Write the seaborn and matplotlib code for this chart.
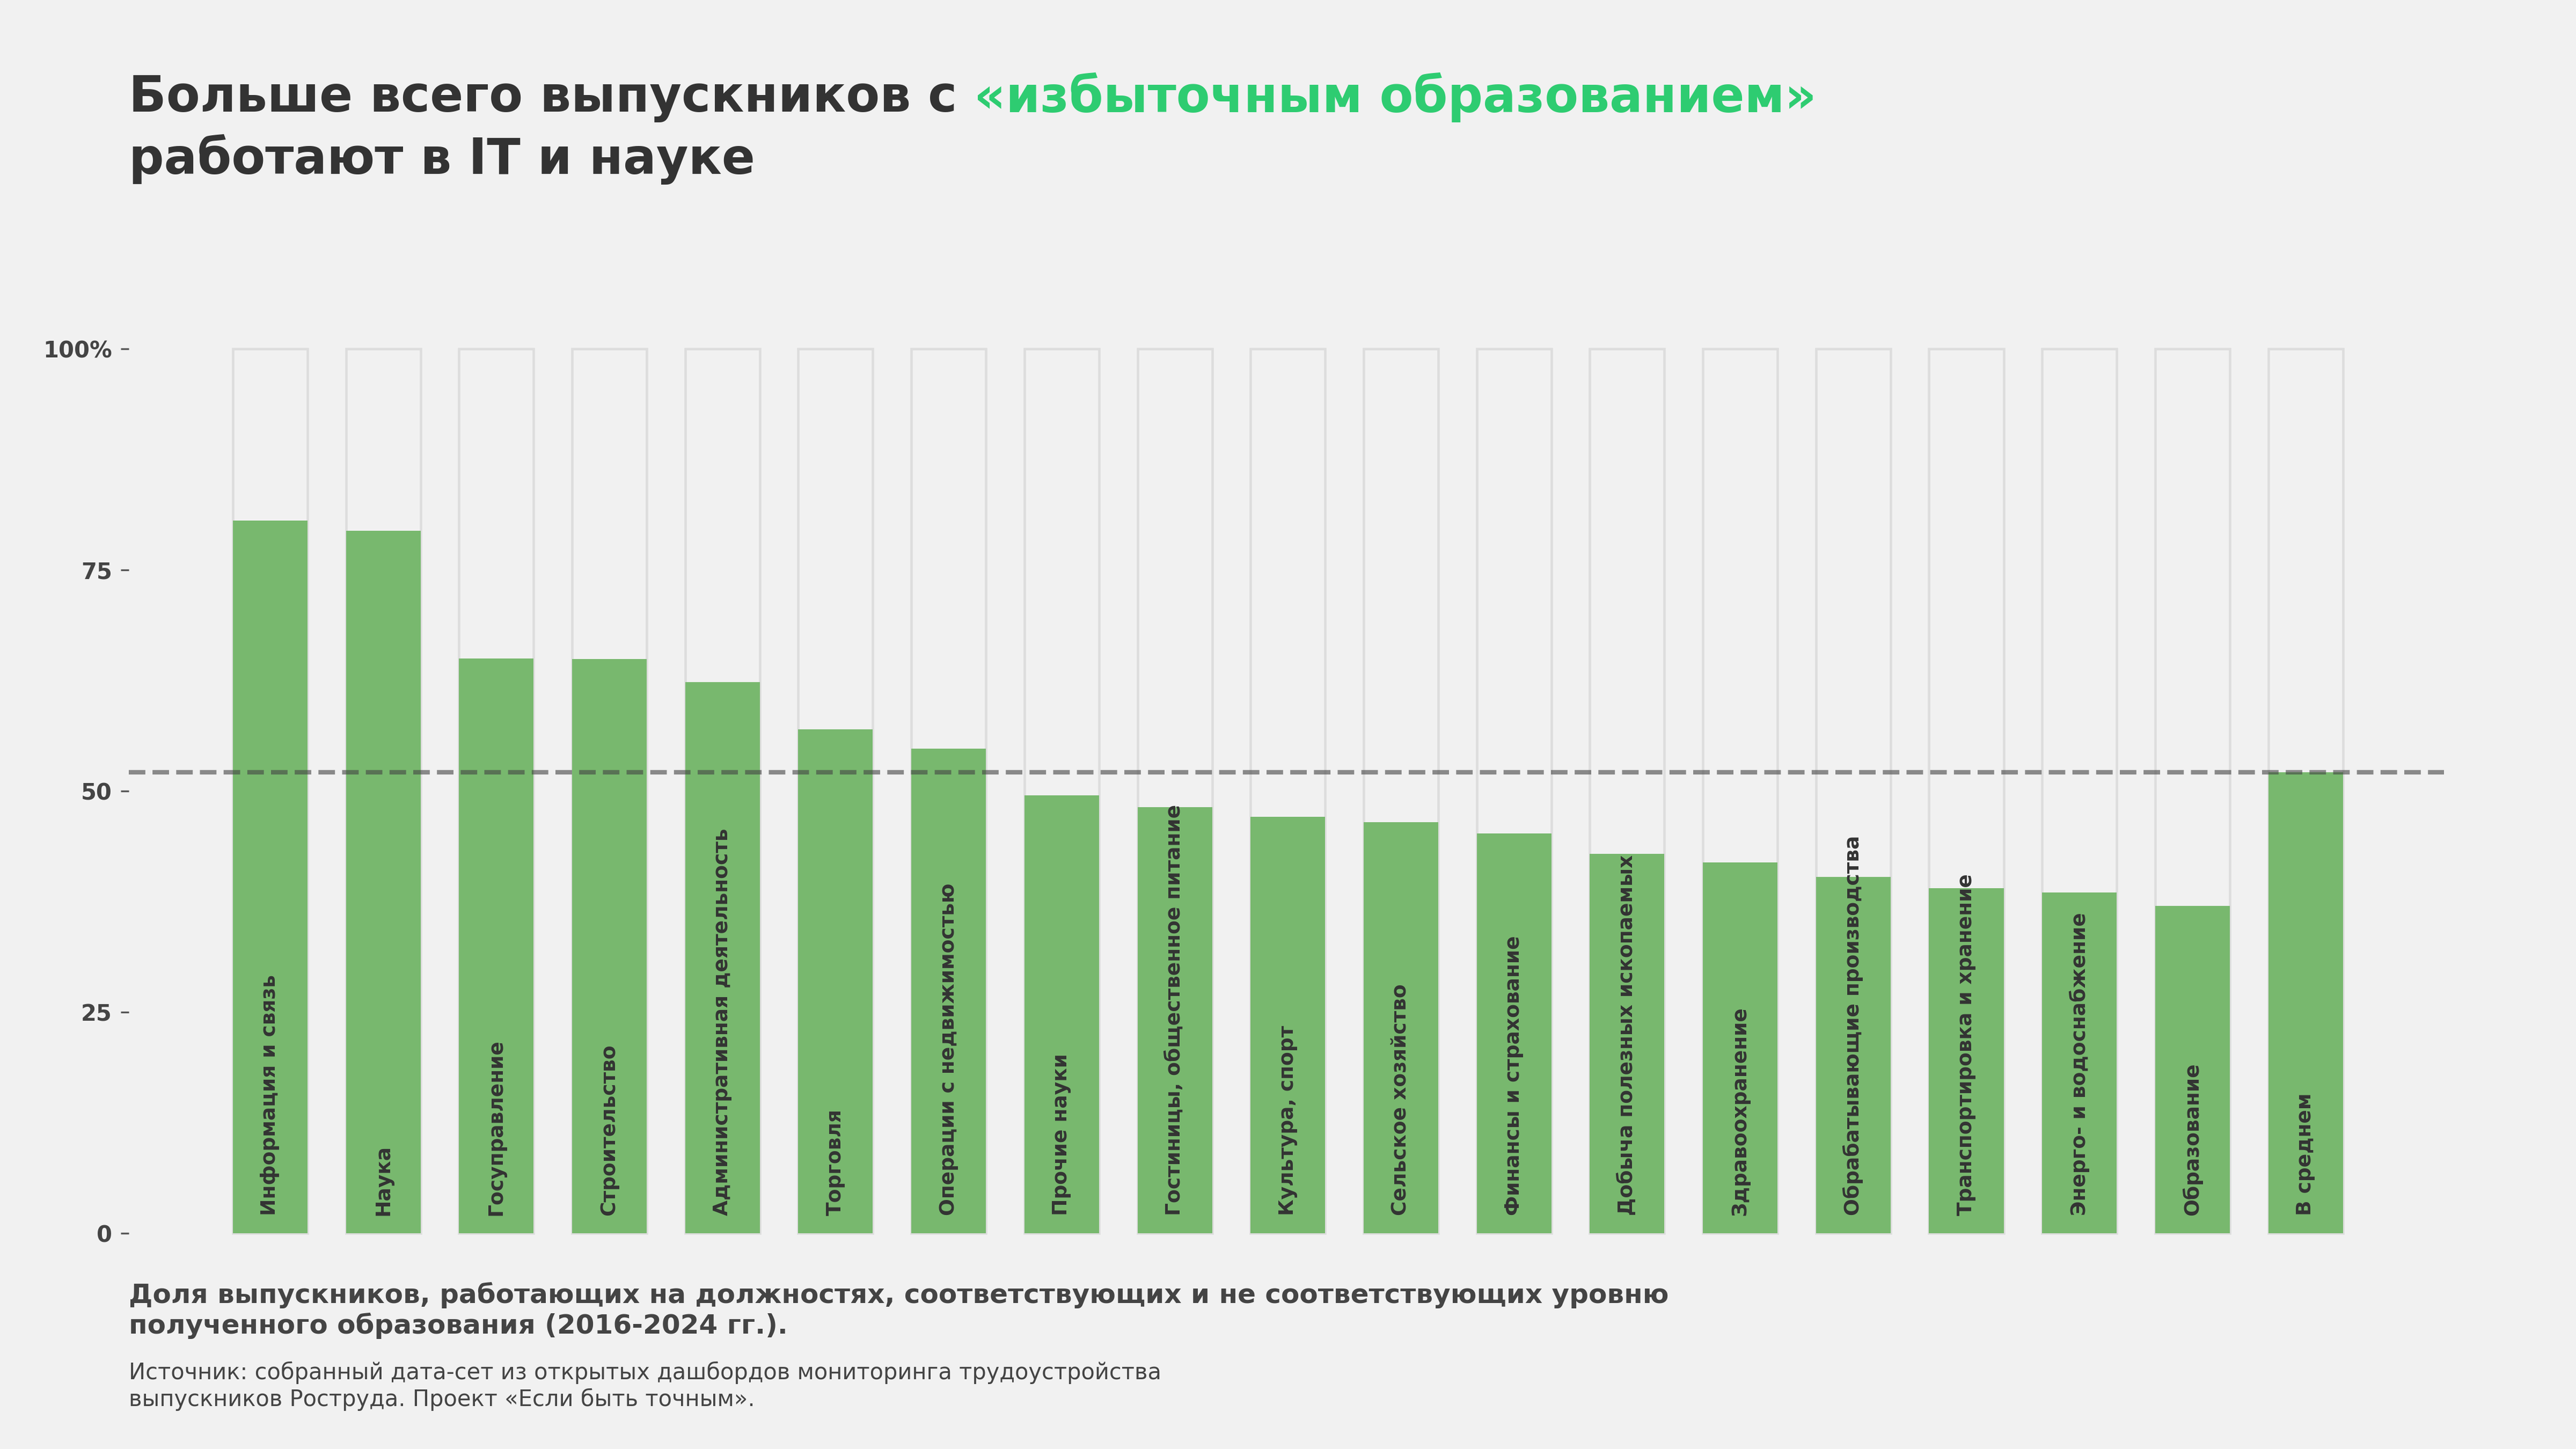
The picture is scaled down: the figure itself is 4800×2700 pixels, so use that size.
import matplotlib.pyplot as plt
import seaborn as sns
import pandas as pd

# Share of graduates working in jobs that match their education level, %
sectors = [
    "Информация и связь", "Наука", "Госуправление", "Строительство",
    "Административная деятельность", "Торговля", "Операции с недвижимостью",
    "Прочие науки", "Гостиницы, общественное питание", "Культура, спорт",
    "Сельское хозяйство", "Финансы и страхование", "Добыча полезных ископаемых",
    "Здравоохранение", "Обрабатывающие производства", "Транспортировка и хранение",
    "Энерго- и водоснабжение", "Образование", "В среднем",
]
shares = [80.6, 79.4, 65.0, 64.9, 62.3, 57.0, 54.8, 49.5, 48.2, 47.1,
          46.5, 45.2, 42.9, 41.9, 40.3, 39.0, 38.5, 37.0, 52.1]
full_scale = [100] * len(sectors)
average_share = shares[-1]

y_ticks = [0, 25, 50, 75, 100]
y_tick_labels = ["0", "25", "50", "75", "100%"]

BG = "#f1f1f1"
GREEN = "#78b86e"
OUTLINE = "#dddddd"
DARK = "#333333"
GREY_TEXT = "#444444"

sns.set_theme(style="white")
plt.rcParams["font.family"] = ["DejaVu Sans"]

df = pd.DataFrame({"sector": sectors, "share": shares, "full": full_scale})

fig = plt.figure(figsize=(16, 9), dpi=300)
fig.patch.set_facecolor(BG)
ax = fig.add_axes([0.05, 0.1428, 0.8988, 0.6226])
ax.set_facecolor(BG)

# empty 100% frames behind, green share on top
sns.barplot(data=df, x="sector", y="full", order=sectors, fill=False,
            color=OUTLINE, linewidth=1.1, width=0.66, errorbar=None, ax=ax)
sns.barplot(data=df, x="sector", y="share", order=sectors, color=GREEN,
            saturation=1, linewidth=0, width=0.66, errorbar=None, ax=ax)

ax.axhline(average_share, color="#444444", alpha=0.6, lw=2, ls="--", zorder=5)

for i, name in enumerate(sectors):
    ax.text(i, 2, name, rotation=90, ha="center", va="bottom",
            fontsize=9, fontweight="bold", color=DARK, zorder=6)

ax.set_xlim(-1.25, len(sectors) - 1 + 1.225)
ax.set_ylim(-1, 101)
ax.set_xticks([])
ax.set_yticks(y_ticks)
ax.set_yticklabels(y_tick_labels, fontsize=10, fontweight="bold", color=GREY_TEXT)
ax.tick_params(axis="y", left=True, length=3.5, width=0.8, color="#555555", pad=4)
ax.set_xlabel("")
ax.set_ylabel("")
sns.despine(ax=ax, left=True, bottom=True)

# title with a green highlighted part
t1 = fig.text(0.05, 0.923, "Больше всего выпускников с", fontsize=22,
              fontweight="bold", color=DARK, va="baseline")
fig.canvas.draw()
ax.annotate(" «избыточным образованием»", xy=(1, 0), xycoords=t1,
            va="bottom", ha="left", fontsize=22, fontweight="bold",
            color="#2ecc71", annotation_clip=False)
fig.text(0.05, 0.880, "работают в IT и науке", fontsize=22,
         fontweight="bold", color=DARK, va="baseline")

fig.text(0.05, 0.0796,
         "Доля выпускников, работающих на должностях, соответствующих и не соответствующих уровню\n"
         "полученного образования (2016-2024 гг.).",
         fontsize=12, fontweight="bold", color=GREY_TEXT, va="baseline")
fig.text(0.05, 0.0298,
         "Источник: собранный дата-сет из открытых дашбордов мониторинга трудоустройства\n"
         "выпускников Роструда. Проект «Если быть точным».",
         fontsize=10, color=GREY_TEXT, va="baseline")

fig.savefig("out.png", dpi=300, facecolor=BG)
